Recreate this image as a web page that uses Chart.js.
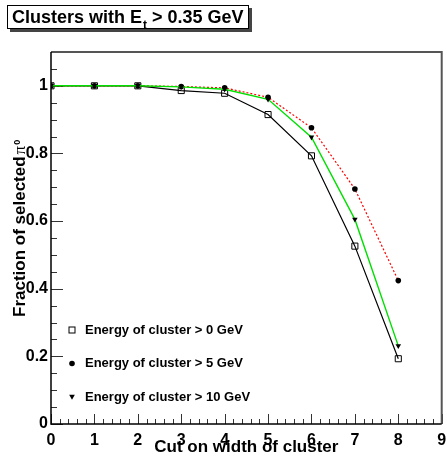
<!DOCTYPE html>
<html>
<head>
<meta charset="utf-8">
<script src="https://cdn.jsdelivr.net/npm/chart.js@4.4.1/dist/chart.umd.min.js"></script>
<style>
  html, body { margin: 0; padding: 0; background: #fff; }
  canvas { display: block; }
</style>
</head>
<body>
<canvas id="pi0Chart" width="447" height="465"></canvas>
<script>
// cut on cluster width (x) and fraction of pi0 kept for each energy threshold
const cutWidths = [0, 1, 2, 3, 4, 5, 6, 7, 8];
const fracE0  = [1.0, 1.0, 1.0, 0.986, 0.978, 0.915, 0.793, 0.526, 0.193];
const fracE5  = [1.0, 1.0, 1.0, 0.998, 0.994, 0.966, 0.876, 0.695, 0.424];
const fracE10 = [1.0, 1.0, 1.0, 0.997, 0.990, 0.960, 0.848, 0.605, 0.231];
const seriesLabels = ['Energy of cluster > 0 GeV', 'Energy of cluster > 5 GeV', 'Energy of cluster > 10 GeV'];
const xTickLabels = ['0', '1', '2', '3', '4', '5', '6', '7', '8', '9'];
const yTickLabels = ['0', '0.2', '0.4', '0.6', '0.8', '1'];

const FONT = '"Liberation Sans", Arial, Helvetica, sans-serif';

function toPoints(vals) {
    return cutWidths.map((c, i) => ({ x: c, y: vals[i] }));
}

// ROOT-like frame, inner ticks, legend and titles
const rootStyle = {
    id: 'rootStyle',
    beforeDatasetsDraw(chart) {
        const { ctx, chartArea: a, scales: { x, y } } = chart;
        ctx.save();
        ctx.strokeStyle = '#333';
        ctx.lineWidth = 1;
        ctx.beginPath();
        for (let i = 0; i <= 45; i++) {
            const px = Math.round(x.getPixelForValue(i * 0.2)) + 0.5;
            const len = i % 5 === 0 ? 10 : 5;
            ctx.moveTo(px, a.bottom);
            ctx.lineTo(px, a.bottom - len);
        }
        for (let i = 0; i <= 22; i++) {
            const py = Math.round(y.getPixelForValue(i * 0.05)) + 0.5;
            const len = i % 4 === 0 ? 12 : 6;
            ctx.moveTo(a.left, py);
            ctx.lineTo(a.left + len, py);
        }
        ctx.stroke();

        ctx.strokeStyle = '#555';
        ctx.lineWidth = 2;
        ctx.beginPath();
        ctx.moveTo(a.left, a.top);
        ctx.lineTo(a.right, a.top);
        ctx.lineTo(a.right, a.bottom);
        ctx.stroke();

        ctx.strokeStyle = '#000';
        ctx.lineWidth = 1.5;
        ctx.beginPath();
        ctx.moveTo(a.left, a.top);
        ctx.lineTo(a.left, a.bottom);
        ctx.lineTo(a.right, a.bottom);
        ctx.stroke();
        ctx.restore();
    },
    afterDraw(chart) {
        const { ctx, chartArea: a } = chart;
        ctx.save();

        // legend
        const ds = chart.data.datasets;
        ctx.font = 'bold 13px ' + FONT;
        ctx.textBaseline = 'middle';
        ctx.textAlign = 'left';
        for (let i = 0; i < ds.length; i++) {
            const ly = 330 + i * 33.5;
            const lx = 72;
            ctx.fillStyle = '#000';
            ctx.strokeStyle = '#000';
            ctx.lineWidth = 1;
            if (ds[i].pointStyle === 'rect') {
                ctx.strokeRect(lx - 3, ly - 3, 6, 6);
            } else if (ds[i].pointStyle === 'circle') {
                ctx.beginPath();
                ctx.arc(lx, ly, 2.8, 0, Math.PI * 2);
                ctx.fill();
            } else {
                ctx.beginPath();
                ctx.moveTo(lx - 2.8, ly - 2.2);
                ctx.lineTo(lx + 2.8, ly - 2.2);
                ctx.lineTo(lx, ly + 2.8);
                ctx.closePath();
                ctx.fill();
            }
            ctx.fillText(ds[i].label, 85, ly);
        }

        // x axis title
        ctx.font = 'bold 17px ' + FONT;
        ctx.textAlign = 'center';
        ctx.textBaseline = 'alphabetic';
        ctx.fillText('Cut on width of cluster', (a.left + a.right) / 2, 452);

        // y axis title
        ctx.save();
        ctx.translate(25, 317);
        ctx.rotate(-Math.PI / 2);
        ctx.textAlign = 'left';
        const part = 'Fraction of selected';
        ctx.fillText(part, 0, 0);
        let off = ctx.measureText(part).width + 2;
        ctx.font = '17px "Liberation Serif", "DejaVu Serif", serif';
        ctx.fillText('π', off, 0);
        off += ctx.measureText('π').width + 1;
        ctx.font = 'bold 9px ' + FONT;
        ctx.fillText('0', off, -5);
        ctx.restore();

        // title box with shadow
        ctx.fillStyle = '#444';
        ctx.fillRect(10, 8, 242, 24);
        ctx.fillStyle = '#fff';
        ctx.fillRect(7, 5, 242, 24);
        ctx.strokeStyle = '#000';
        ctx.lineWidth = 1;
        ctx.strokeRect(7.5, 5.5, 241, 23);
        ctx.fillStyle = '#000';
        ctx.textAlign = 'left';
        ctx.font = 'bold 18px ' + FONT;
        const t1 = 'Clusters with E';
        ctx.fillText(t1, 12, 23);
        let tx = 12 + ctx.measureText(t1).width;
        ctx.font = 'bold 12px ' + FONT;
        ctx.fillText('t', tx + 1, 29);
        tx += ctx.measureText('t').width + 1;
        ctx.font = 'bold 18px ' + FONT;
        ctx.fillText(' > 0.35 GeV', tx, 23);

        ctx.restore();
    }
};

const tickFont = { family: FONT, size: 16, weight: 'bold' };

new Chart(document.getElementById('pi0Chart').getContext('2d'), {
    type: 'line',
    data: {
        datasets: [{
            label: seriesLabels[0],
            data: toPoints(fracE0),
            borderColor: '#000',
            borderWidth: 1.2,
            pointStyle: 'rect',
            pointRadius: 4.3,
            pointBorderWidth: 1,
            pointBorderColor: '#000',
            pointBackgroundColor: 'rgba(0,0,0,0)',
            tension: 0,
            order: 2
        }, {
            label: seriesLabels[1],
            data: toPoints(fracE5),
            borderColor: '#ff0000',
            borderWidth: 1.2,
            borderDash: [2, 2],
            pointStyle: 'circle',
            pointRadius: 2.8,
            pointBorderWidth: 0,
            pointBackgroundColor: '#000',
            tension: 0,
            order: 1
        }, {
            label: seriesLabels[2],
            data: toPoints(fracE10),
            borderColor: '#00e000',
            borderWidth: 1.4,
            pointStyle: 'triangle',
            pointRotation: 180,
            pointRadius: 3.2,
            pointBorderWidth: 0,
            pointBackgroundColor: '#000',
            tension: 0,
            order: 0
        }]
    },
    options: {
        responsive: false,
        animation: false,
        layout: { padding: { left: 0, top: 52, right: 4, bottom: 0 } },
        plugins: {
            legend: { display: false },
            title: { display: false },
            tooltip: { enabled: false }
        },
        scales: {
            x: {
                type: 'linear',
                min: 0,
                max: 9,
                afterFit(s) { s.height = 41; s.paddingLeft = 0; s.paddingRight = 0; },
                grid: { display: false, drawTicks: false },
                border: { display: false },
                ticks: {
                    stepSize: 1,
                    autoSkip: false,
                    maxRotation: 0,
                    padding: 7,
                    color: '#000',
                    font: tickFont,
                    callback: (v) => xTickLabels[Math.round(v)]
                }
            },
            y: {
                type: 'linear',
                min: 0,
                max: 1.1,
                afterFit(s) { s.width = 51; s.paddingTop = 0; s.paddingBottom = 0; },
                grid: { display: false, drawTicks: false },
                border: { display: false },
                ticks: {
                    stepSize: 0.2,
                    includeBounds: false,
                    autoSkip: false,
                    padding: 3,
                    color: '#000',
                    font: tickFont,
                    callback: (v) => yTickLabels[Math.round(v / 0.2)]
                }
            }
        }
    },
    plugins: [rootStyle]
});
</script>
</body>
</html>
